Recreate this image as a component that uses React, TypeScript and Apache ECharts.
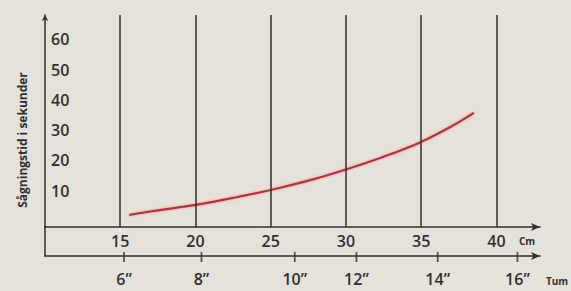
import React, { useEffect, useRef } from 'react';
import * as echarts from 'echarts';

const cmTicks = [15, 20, 25, 30, 35, 40];
const secondsTicks = [10, 20, 30, 40, 50, 60];
const inchLabels = ['6”', '8”', '10”', '12”', '14”', '16”'];
const inchTickCm = [15.25, 20.4, 26.6, 30.7, 36.1, 41.4];
const curveCm = [15.6, 17.5, 20, 22.5, 25, 27.5, 30, 32.5, 35, 37, 38.5];
const curveSeconds = [2.0, 3.5, 5.3, 7.6, 10.2, 13.3, 17.0, 21.2, 26.1, 31.2, 35.7];

const INK = '#2f2f33';
const RED = '#b9303a';
const BG = '#e5e3d9';
const FONT = '"Open Sans", "DejaVu Sans", sans-serif';

export default function App() {
  const ref = useRef<HTMLDivElement>(null);
  useEffect(() => {
    if (!ref.current) return;
    const chart = echarts.init(ref.current, null, { renderer: 'svg' });
    const labelStyle = { color: INK, fontSize: 16, fontWeight: 600, fontFamily: FONT };
    chart.setOption({
      animation: false,
      backgroundColor: BG,
      grid: [
        { left: 45, right: 31, top: 15, height: 212 },
        { left: 45, right: 31, top: 227, height: 29 },
      ],
      xAxis: [
        {
          gridIndex: 0, type: 'value', min: 10, max: 42.9, position: 'bottom',
          axisLine: { show: true, onZero: false, lineStyle: { color: INK, width: 1.5 }, symbol: ['none', 'arrow'], symbolSize: [6, 9] },
          axisTick: { show: false }, splitLine: { show: false },
          axisLabel: { ...labelStyle, customValues: cmTicks, margin: 6 },
        },
        {
          gridIndex: 1, type: 'value', min: 10, max: 42.9, position: 'bottom',
          axisLine: { show: true, onZero: false, lineStyle: { color: INK, width: 1.5 }, symbol: ['none', 'arrow'], symbolSize: [6, 9] },
          axisTick: { show: false },
          splitLine: { show: false },
          axisLabel: {
            ...labelStyle, customValues: inchTickCm, margin: 15,
            formatter: (v: number) => {
              const i = inchTickCm.findIndex((c) => Math.abs(c - v) < 1e-6);
              return i >= 0 ? inchLabels[i] : '';
            },
          },
        },
      ],
      yAxis: [
        {
          gridIndex: 0, type: 'value', min: -2, max: 68,
          axisLine: { show: true, onZero: false, lineStyle: { color: INK, width: 1.5 }, symbol: ['none', 'arrow'], symbolSize: [5, 6] },
          axisTick: { show: false }, splitLine: { show: false },
          axisLabel: { ...labelStyle, inside: true, customValues: secondsTicks, margin: 6 },
        },
        {
          gridIndex: 1, type: 'value', min: 0, max: 1,
          axisLine: { show: true, onZero: false, lineStyle: { color: INK, width: 1.5 } },
          axisTick: { show: false }, splitLine: { show: false }, axisLabel: { show: false },
        },
      ],
      series: [
        {
          type: 'line', xAxisIndex: 0, yAxisIndex: 0, data: [], z: 1, silent: true,
          markLine: {
            silent: true, symbol: ['none', 'none'], label: { show: false },
            lineStyle: { color: INK, width: 1.5, type: 'solid' },
            data: cmTicks.map((v) => ({ xAxis: v })),
          },
        },
        {
          type: 'line', xAxisIndex: 0, yAxisIndex: 0, z: 3,
          data: curveCm.map((c, i) => [c, curveSeconds[i]]),
          smooth: 0.4, symbol: 'none',
          lineStyle: { color: RED, width: 2.2, shadowColor: 'rgba(235,120,130,0.7)', shadowBlur: 3 },
        },
        {
          type: 'scatter', xAxisIndex: 1, yAxisIndex: 1, clip: false, silent: true, z: 50,
          data: inchTickCm.map((c) => [c, 0]),
          symbol: 'rect', symbolSize: [1.8, 10], symbolOffset: [0, 1],
          itemStyle: { color: INK },
        },
      ],
      graphic: [
        {
          type: 'text', x: 22, y: 140, rotation: Math.PI / 2,
          style: { text: 'Sågningstid i sekunder', fill: INK, fontSize: 12, fontWeight: 'bold', fontFamily: FONT, align: 'center', verticalAlign: 'middle' },
        },
        {
          type: 'text', x: 527, y: 241,
          style: { text: 'Cm', fill: INK, fontSize: 10, fontWeight: 'bold', fontFamily: FONT, align: 'center', verticalAlign: 'middle' },
        },
        {
          type: 'text', x: 557, y: 281,
          style: { text: 'Tum', fill: INK, fontSize: 10, fontWeight: 'bold', fontFamily: FONT, align: 'center', verticalAlign: 'middle' },
        },
      ],
    });
    return () => chart.dispose();
  }, []);
  return <div ref={ref} style={{ position: 'fixed', left: 0, top: 0, width: 571, height: 291 }} />;
}
